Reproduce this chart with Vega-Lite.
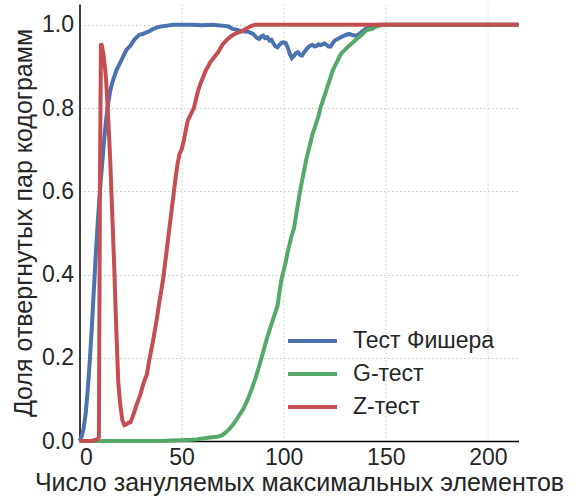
{
  "$schema": "https://vega.github.io/schema/vega-lite/v6.json",
  "autosize": "none",
  "width": 439,
  "height": 437,
  "padding": {"left": 79.5, "top": 4, "right": 59.5, "bottom": 56},
  "background": "white",
  "config": {
    "view": {"stroke": null},
    "font": "Liberation Sans",
    "axis": {
      "domainColor": "#000000",
      "domainWidth": 1.5,
      "ticks": false,
      "grid": true,
      "gridColor": "#c8c8c8",
      "gridDash": [1.5, 2.5],
      "gridWidth": 1,
      "labelFont": "Liberation Sans",
      "labelFontSize": 23,
      "labelColor": "#262626",
      "titleFont": "Liberation Sans",
      "titleFontSize": 25,
      "titleFontWeight": "normal",
      "titleColor": "#262626"
    }
  },
  "data": {
    "values": [
      {"t":"F","x":0,"y":0},{"t":"F","x":1,"y":0.01},{"t":"F","x":2,"y":0.03},{"t":"F","x":3,"y":0.065},{"t":"F","x":4,"y":0.12},{"t":"F","x":5,"y":0.19},{"t":"F","x":6,"y":0.27},{"t":"F","x":7,"y":0.36},{"t":"F","x":8,"y":0.45},{"t":"F","x":9,"y":0.53},{"t":"F","x":10,"y":0.6},{"t":"F","x":11,"y":0.66},{"t":"F","x":12,"y":0.72},{"t":"F","x":13,"y":0.77},{"t":"F","x":14,"y":0.81},{"t":"F","x":15,"y":0.84},{"t":"F","x":16,"y":0.86},{"t":"F","x":17,"y":0.875},{"t":"F","x":18,"y":0.89},{"t":"F","x":19,"y":0.9},{"t":"F","x":20,"y":0.91},{"t":"F","x":21,"y":0.92},{"t":"F","x":22,"y":0.93},{"t":"F","x":23,"y":0.94},{"t":"F","x":24,"y":0.945},{"t":"F","x":25,"y":0.95},{"t":"F","x":26,"y":0.958},{"t":"F","x":27,"y":0.965},{"t":"F","x":28,"y":0.97},{"t":"F","x":29,"y":0.975},{"t":"F","x":30,"y":0.977},{"t":"F","x":31,"y":0.978},{"t":"F","x":32,"y":0.98},{"t":"F","x":34,"y":0.984},{"t":"F","x":36,"y":0.99},{"t":"F","x":38,"y":0.994},{"t":"F","x":40,"y":0.996},{"t":"F","x":43,"y":0.998},{"t":"F","x":46,"y":1.0},{"t":"F","x":55,"y":1.0},{"t":"F","x":60,"y":0.999},{"t":"F","x":65,"y":1.0},{"t":"F","x":70,"y":0.998},{"t":"F","x":73,"y":0.996},{"t":"F","x":75,"y":0.99},{"t":"F","x":77,"y":0.988},{"t":"F","x":79,"y":0.985},{"t":"F","x":81,"y":0.984},{"t":"F","x":83,"y":0.983},{"t":"F","x":85,"y":0.978},{"t":"F","x":87,"y":0.968},{"t":"F","x":88,"y":0.966},{"t":"F","x":89,"y":0.972},{"t":"F","x":90,"y":0.974},{"t":"F","x":91,"y":0.968},{"t":"F","x":92,"y":0.97},{"t":"F","x":93,"y":0.962},{"t":"F","x":94,"y":0.964},{"t":"F","x":95,"y":0.955},{"t":"F","x":96,"y":0.948},{"t":"F","x":97,"y":0.946},{"t":"F","x":98,"y":0.952},{"t":"F","x":99,"y":0.957},{"t":"F","x":100,"y":0.958},{"t":"F","x":101,"y":0.956},{"t":"F","x":102,"y":0.945},{"t":"F","x":103,"y":0.93},{"t":"F","x":104,"y":0.92},{"t":"F","x":105,"y":0.925},{"t":"F","x":106,"y":0.932},{"t":"F","x":107,"y":0.934},{"t":"F","x":108,"y":0.928},{"t":"F","x":109,"y":0.926},{"t":"F","x":110,"y":0.934},{"t":"F","x":111,"y":0.94},{"t":"F","x":112,"y":0.946},{"t":"F","x":113,"y":0.95},{"t":"F","x":114,"y":0.952},{"t":"F","x":115,"y":0.948},{"t":"F","x":116,"y":0.949},{"t":"F","x":117,"y":0.953},{"t":"F","x":118,"y":0.951},{"t":"F","x":120,"y":0.955},{"t":"F","x":121,"y":0.952},{"t":"F","x":122,"y":0.948},{"t":"F","x":123,"y":0.948},{"t":"F","x":124,"y":0.956},{"t":"F","x":125,"y":0.962},{"t":"F","x":126,"y":0.965},{"t":"F","x":128,"y":0.97},{"t":"F","x":130,"y":0.975},{"t":"F","x":132,"y":0.978},{"t":"F","x":134,"y":0.975},{"t":"F","x":136,"y":0.974},{"t":"F","x":138,"y":0.982},{"t":"F","x":140,"y":0.99},{"t":"F","x":142,"y":0.994},{"t":"F","x":144,"y":0.997},{"t":"F","x":146,"y":1.0},{"t":"F","x":215,"y":1.0},
      {"t":"G","x":0,"y":0},{"t":"G","x":40,"y":0},{"t":"G","x":45,"y":0.001},{"t":"G","x":50,"y":0.002},{"t":"G","x":55,"y":0.003},{"t":"G","x":58,"y":0.004},{"t":"G","x":62,"y":0.007},{"t":"G","x":65,"y":0.009},{"t":"G","x":68,"y":0.011},{"t":"G","x":70,"y":0.014},{"t":"G","x":72,"y":0.022},{"t":"G","x":74,"y":0.032},{"t":"G","x":76,"y":0.045},{"t":"G","x":78,"y":0.06},{"t":"G","x":80,"y":0.075},{"t":"G","x":82,"y":0.095},{"t":"G","x":84,"y":0.12},{"t":"G","x":86,"y":0.148},{"t":"G","x":88,"y":0.18},{"t":"G","x":90,"y":0.215},{"t":"G","x":92,"y":0.25},{"t":"G","x":94,"y":0.28},{"t":"G","x":96,"y":0.31},{"t":"G","x":97,"y":0.325},{"t":"G","x":98,"y":0.36},{"t":"G","x":99,"y":0.39},{"t":"G","x":100,"y":0.41},{"t":"G","x":101,"y":0.43},{"t":"G","x":102,"y":0.455},{"t":"G","x":103,"y":0.475},{"t":"G","x":104,"y":0.495},{"t":"G","x":105,"y":0.51},{"t":"G","x":106,"y":0.54},{"t":"G","x":107,"y":0.57},{"t":"G","x":108,"y":0.6},{"t":"G","x":109,"y":0.625},{"t":"G","x":110,"y":0.65},{"t":"G","x":111,"y":0.675},{"t":"G","x":112,"y":0.695},{"t":"G","x":113,"y":0.715},{"t":"G","x":114,"y":0.735},{"t":"G","x":115,"y":0.75},{"t":"G","x":116,"y":0.765},{"t":"G","x":117,"y":0.78},{"t":"G","x":118,"y":0.8},{"t":"G","x":119,"y":0.815},{"t":"G","x":120,"y":0.83},{"t":"G","x":121,"y":0.845},{"t":"G","x":122,"y":0.86},{"t":"G","x":123,"y":0.875},{"t":"G","x":124,"y":0.89},{"t":"G","x":125,"y":0.9},{"t":"G","x":126,"y":0.91},{"t":"G","x":127,"y":0.92},{"t":"G","x":128,"y":0.93},{"t":"G","x":130,"y":0.94},{"t":"G","x":132,"y":0.95},{"t":"G","x":134,"y":0.958},{"t":"G","x":136,"y":0.967},{"t":"G","x":138,"y":0.975},{"t":"G","x":140,"y":0.985},{"t":"G","x":141,"y":0.988},{"t":"G","x":143,"y":0.99},{"t":"G","x":145,"y":0.995},{"t":"G","x":147,"y":0.998},{"t":"G","x":149,"y":1.0},{"t":"G","x":215,"y":1.0},
      {"t":"Z","x":0,"y":0},{"t":"Z","x":6,"y":0},{"t":"Z","x":8,"y":0.003},{"t":"Z","x":9,"y":0.005},{"t":"Z","x":9.5,"y":0.01},{"t":"Z","x":10,"y":0.6},{"t":"Z","x":10.5,"y":0.955},{"t":"Z","x":11,"y":0.95},{"t":"Z","x":12,"y":0.92},{"t":"Z","x":13,"y":0.87},{"t":"Z","x":14,"y":0.78},{"t":"Z","x":15,"y":0.68},{"t":"Z","x":16,"y":0.55},{"t":"Z","x":17,"y":0.42},{"t":"Z","x":18,"y":0.27},{"t":"Z","x":19,"y":0.14},{"t":"Z","x":20,"y":0.085},{"t":"Z","x":21,"y":0.05},{"t":"Z","x":22,"y":0.038},{"t":"Z","x":23,"y":0.04},{"t":"Z","x":24,"y":0.044},{"t":"Z","x":25,"y":0.045},{"t":"Z","x":26,"y":0.058},{"t":"Z","x":27,"y":0.072},{"t":"Z","x":28,"y":0.088},{"t":"Z","x":29,"y":0.1},{"t":"Z","x":30,"y":0.115},{"t":"Z","x":31,"y":0.133},{"t":"Z","x":32,"y":0.148},{"t":"Z","x":33,"y":0.16},{"t":"Z","x":34,"y":0.19},{"t":"Z","x":35,"y":0.215},{"t":"Z","x":36,"y":0.24},{"t":"Z","x":37,"y":0.268},{"t":"Z","x":38,"y":0.298},{"t":"Z","x":39,"y":0.33},{"t":"Z","x":40,"y":0.36},{"t":"Z","x":41,"y":0.39},{"t":"Z","x":42,"y":0.43},{"t":"Z","x":43,"y":0.47},{"t":"Z","x":44,"y":0.51},{"t":"Z","x":45,"y":0.55},{"t":"Z","x":46,"y":0.59},{"t":"Z","x":47,"y":0.63},{"t":"Z","x":48,"y":0.665},{"t":"Z","x":49,"y":0.69},{"t":"Z","x":50,"y":0.7},{"t":"Z","x":51,"y":0.72},{"t":"Z","x":52,"y":0.745},{"t":"Z","x":53,"y":0.77},{"t":"Z","x":54,"y":0.78},{"t":"Z","x":55,"y":0.79},{"t":"Z","x":56,"y":0.8},{"t":"Z","x":57,"y":0.82},{"t":"Z","x":58,"y":0.84},{"t":"Z","x":59,"y":0.855},{"t":"Z","x":60,"y":0.868},{"t":"Z","x":61,"y":0.88},{"t":"Z","x":62,"y":0.892},{"t":"Z","x":63,"y":0.9},{"t":"Z","x":64,"y":0.91},{"t":"Z","x":66,"y":0.922},{"t":"Z","x":68,"y":0.935},{"t":"Z","x":70,"y":0.952},{"t":"Z","x":72,"y":0.963},{"t":"Z","x":74,"y":0.972},{"t":"Z","x":76,"y":0.978},{"t":"Z","x":78,"y":0.982},{"t":"Z","x":80,"y":0.986},{"t":"Z","x":82,"y":0.992},{"t":"Z","x":84,"y":0.997},{"t":"Z","x":86,"y":1.0},{"t":"Z","x":215,"y":1.0}
    ]
  },
  "mark": {"type": "line", "strokeWidth": 4, "clip": false, "strokeCap": "butt"},
  "encoding": {
    "x": {
      "field": "x", "type": "quantitative",
      "scale": {"domain": [0, 215], "nice": false, "zero": false},
      "axis": {"values": [0, 50, 100, 150, 200], "title": "Число зануляемых максимальных элементов", "labelPadding": 5, "titlePadding": 1, "format": "d"}
    },
    "y": {
      "field": "y", "type": "quantitative",
      "scale": {"domain": [0, 1.05], "nice": false},
      "axis": {"values": [0, 0.2, 0.4, 0.6, 0.8, 1.0], "format": ".1f", "title": "Доля отвергнутых пар кодограмм", "labelPadding": 6, "titlePadding": 5}
    },
    "color": {
      "field": "t", "type": "nominal",
      "scale": {"domain": ["F", "G", "Z"], "range": ["#4C72B0", "#55A868", "#C44E52"]},
      "legend": {
        "title": null,
        "orient": "none",
        "legendX": 206.5,
        "legendY": 320.5,
        "padding": 0,
        "symbolType": "stroke",
        "symbolSize": 2401,
        "symbolStrokeWidth": 4,
        "clipHeight": 33,
        "rowPadding": 0,
        "labelOffset": 14,
        "labelFontSize": 23,
        "labelFont": "Liberation Sans",
        "labelColor": "#262626",
        "labelExpr": "datum.label == 'F' ? 'Тест Фишера' : datum.label == 'G' ? 'G-тест' : 'Z-тест'"
      }
    },
    "order": {"field": "x", "type": "quantitative"}
  }
}
